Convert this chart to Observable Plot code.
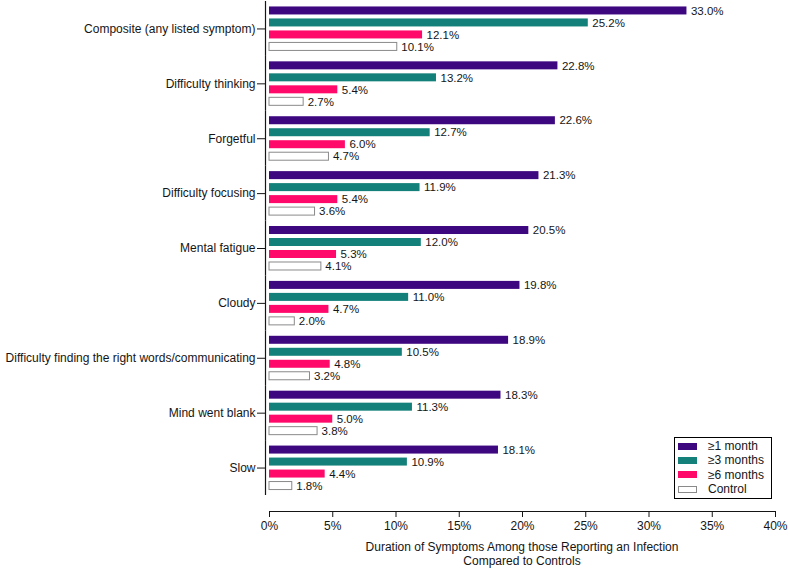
<!DOCTYPE html>
<html>
<head>
<meta charset="utf-8">
<script src="https://cdn.jsdelivr.net/npm/d3@7"></script>
<script src="https://cdn.jsdelivr.net/npm/@observablehq/plot@0.6"></script>
<style>
  html, body { margin: 0; padding: 0; background: #fff; }
  #chart { position: relative; width: 790px; height: 568px; font-family: "Liberation Sans", Arial, sans-serif; color: #151515; }
  #chart svg { display: block; font-family: "Liberation Sans", Arial, sans-serif; }
  .xlabel { position: absolute; left: 269px; width: 506px; top: 541px; text-align: center; font-size: 12px; line-height: 13.5px; }
  .legend { position: absolute; left: 674px; top: 437px; width: 98px; height: 62px; box-sizing: border-box; border: 1px solid #000; background: #fff; padding-top: 1px; }
  .legend .row { height: 14.3px; display: flex; align-items: center; font-size: 12px; }
  .legend .sw { width: 19px; height: 7px; margin-left: 3px; margin-right: 11px; box-sizing: border-box; }
</style>
</head>
<body>
<div id="chart"></div>
<script>
// Cognitive symptoms, share reporting each duration vs. controls (%)
const categories = [
  "Composite (any listed symptom)",
  "Difficulty thinking",
  "Forgetful",
  "Difficulty focusing",
  "Mental fatigue",
  "Cloudy",
  "Difficulty finding the right words/communicating",
  "Mind went blank",
  "Slow"
];
const series = ["≥1 month", "≥3 months", "≥6 months", "Control"];
const oneMonth    = [33.0, 22.8, 22.6, 21.3, 20.5, 19.8, 18.9, 18.3, 18.1];
const threeMonths = [25.2, 13.2, 12.7, 11.9, 12.0, 11.0, 10.5, 11.3, 10.9];
const sixMonths   = [12.1,  5.4,  6.0,  5.4,  5.3,  4.7,  4.8,  5.0,  4.4];
const control     = [10.1,  2.7,  4.7,  3.6,  4.1,  2.0,  3.2,  3.8,  1.8];
const xTicks = [0, 5, 10, 15, 20, 25, 30, 35, 40];
const colors = ["#3d0780", "#138079", "#ff0a6a", "#ffffff"];
const controlStroke = "#8a8a8a";
const ink = "#151515";

// Long table: one row per category × series
const columns = [oneMonth, threeMonths, sixMonths, control];
const rows = categories.flatMap((category, i) =>
  series.map((s, j) => ({category, series: s, value: columns[j][i]}))
);
const colored = rows.filter(d => d.series !== "Control");
const controls = rows.filter(d => d.series === "Control");

const xDomain = [xTicks[0], xTicks[xTicks.length - 1]];
const root = document.getElementById("chart");

// Bars, faceted by symptom
const main = Plot.plot({
  width: 790,
  height: 497,
  marginTop: 1,
  marginBottom: 2,
  marginLeft: 265,
  marginRight: 15,
  style: {fontFamily: "Liberation Sans, Arial, sans-serif", color: ink, background: "#fff"},
  x: {domain: xDomain, insetLeft: 4, axis: null},
  y: {domain: series, paddingInner: 0.333, paddingOuter: 0.455, round: false, axis: null},
  fy: {domain: categories, padding: 0, round: false, axis: null},
  color: {domain: series, range: colors},
  marks: [
    Plot.barX(colored, {x: "value", y: "series", fy: "category", fill: "series"}),
    Plot.barX(controls, {x: "value", y: "series", fy: "category", fill: "#fff", stroke: controlStroke, strokeWidth: 1}),
    Plot.text(rows, {
      x: "value", y: "series", fy: "category",
      text: d => d.value.toFixed(1) + "%",
      textAnchor: "start", dx: 4, fontSize: 11.5, fill: ink
    }),
    Plot.ruleX([0], {dx: -4, stroke: ink, strokeWidth: 1.2}),
    Plot.axisFy({anchor: "left", tickSize: 8, tickPadding: 2, fontSize: 12, label: null, stroke: ink, color: ink})
  ]
});
root.appendChild(main);

// Detached x axis below the bars
const axis = Plot.plot({
  width: 790,
  height: 71,
  marginTop: 0,
  marginBottom: 57,
  marginLeft: 265,
  marginRight: 15,
  style: {fontFamily: "Liberation Sans, Arial, sans-serif", color: ink, background: "#fff", overflow: "visible"},
  x: {domain: xDomain, insetLeft: 4},
  y: {domain: [0, 1], axis: null},
  marks: [
    Plot.ruleY([0], {x1: xDomain[0], x2: xDomain[1], stroke: ink, strokeWidth: 1.2}),
    Plot.axisX(xTicks, {anchor: "bottom", tickSize: 6, tickPadding: 4, fontSize: 12, label: null, tickFormat: d => d + "%", stroke: ink})
  ]
});
root.appendChild(axis);

// Axis title
const xlabel = document.createElement("div");
xlabel.className = "xlabel";
xlabel.innerHTML = "Duration of Symptoms Among those Reporting an Infection<br>Compared to Controls";
root.appendChild(xlabel);

// Legend box
const legend = document.createElement("div");
legend.className = "legend";
series.forEach((s, i) => {
  const row = document.createElement("div");
  row.className = "row";
  const sw = document.createElement("span");
  sw.className = "sw";
  sw.style.background = colors[i];
  if (s === "Control") sw.style.border = `1px solid ${controlStroke}`;
  const label = document.createElement("span");
  label.textContent = s;
  row.appendChild(sw);
  row.appendChild(label);
  legend.appendChild(row);
});
root.appendChild(legend);
</script>
</body>
</html>
